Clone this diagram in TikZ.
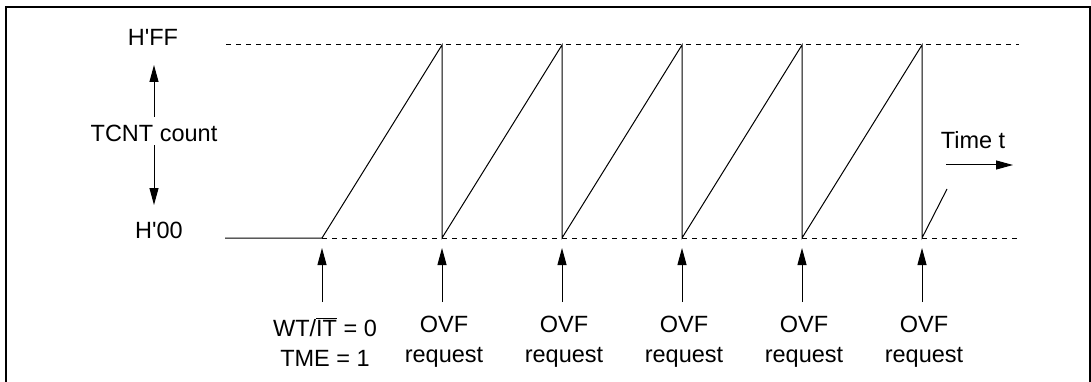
\documentclass[tikz,border=0pt]{standalone}
\usepackage{fontspec}
\setmainfont{Liberation Sans}
\usetikzlibrary{arrows.meta}

\begin{document}
\begin{tikzpicture}[x=1pt,y=-1pt]
	\tikzset{lbl/.style={inner sep=0pt,font=\fontsize{23.5}{30}\selectfont,align=center}}
	\tikzset{saw/.style={line width=1pt,line join=miter}}
	\tikzset{level/.style={line width=1pt,dash pattern=on 5pt off 5pt}}
	\tikzset{req/.style={line width=1pt,-{Triangle[length=17pt,width=9pt]}}}

	\useasboundingbox (0,0) rectangle (1091,382);
	\draw[line width=1.3pt] (6,382) -- (6,7) -- (1090,7) -- (1090,382);

	% levels
	\coordinate (ffl) at (226,45);
	\coordinate (ffr) at (1019,45);
	\coordinate (zl) at (225,238);
	\coordinate (zr) at (1019,238);

	% corners of the count
	\coordinate (s0) at (322,238);
	\coordinate (p1) at (442,45);
	\coordinate (s1) at (442,238);
	\coordinate (p2) at (562,45);
	\coordinate (s2) at (562,238);
	\coordinate (p3) at (682,45);
	\coordinate (s3) at (682,238);
	\coordinate (p4) at (802,45);
	\coordinate (s4) at (802,238);
	\coordinate (p5) at (922,45);
	\coordinate (s5) at (922,238);
	\coordinate (end) at (947,189);

	% tails of the request arrows
	\coordinate (r0) at (322,302);
	\coordinate (r1) at (442,302);
	\coordinate (r2) at (562,302);
	\coordinate (r3) at (682,302);
	\coordinate (r4) at (802,302);
	\coordinate (r5) at (922,302);

	% labels
	\node[lbl] (ff) at (153,37) {H\textquotesingle FF};
	\node[lbl] (zero) at (159,230) {H\textquotesingle 00};
	\node[lbl] (cnt) at (154,133) {TCNT count};
	\coordinate (cup) at (154,65);
	\coordinate (cdown) at (154,205);
	\node[lbl] (time) at (973,140) {Time t};
	\coordinate (tl) at (946,165);
	\coordinate (tr) at (1013,165);

	\node[lbl] (wt) at (325,342) {WT/$\overline{\mbox{IT}}$ = 0\\TME = 1};
	\node[lbl] (ovf1) at (444,342) {OVF\\request};
	\node[lbl] (ovf2) at (564,342) {OVF\\request};
	\node[lbl] (ovf3) at (684,342) {OVF\\request};
	\node[lbl] (ovf4) at (804,342) {OVF\\request};
	\node[lbl] (ovf5) at (924,342) {OVF\\request};

	% edges
	\draw[level] (ffl) -- (ffr);
	\draw[level] (s0) -- (zr);
	\draw[saw] (zl) -- (s0) -- (p1) -- (s1) -- (p2) -- (s2) -- (p3) -- (s3)
		-- (p4) -- (s4) -- (p5) -- (s5) -- (end);

	\draw[req, shorten <=7.5pt] (cnt) -- (cup);
	\draw[req, shorten <=3.5pt] (cnt) -- (cdown);
	\draw[req] (tl) -- (tr);

	\draw[req, shorten >=10pt] (r0) -- (s0);
	\draw[req, shorten >=10pt] (r1) -- (s1);
	\draw[req, shorten >=10pt] (r2) -- (s2);
	\draw[req, shorten >=10pt] (r3) -- (s3);
	\draw[req, shorten >=10pt] (r4) -- (s4);
	\draw[req, shorten >=10pt] (r5) -- (s5);
\end{tikzpicture}
\end{document}
